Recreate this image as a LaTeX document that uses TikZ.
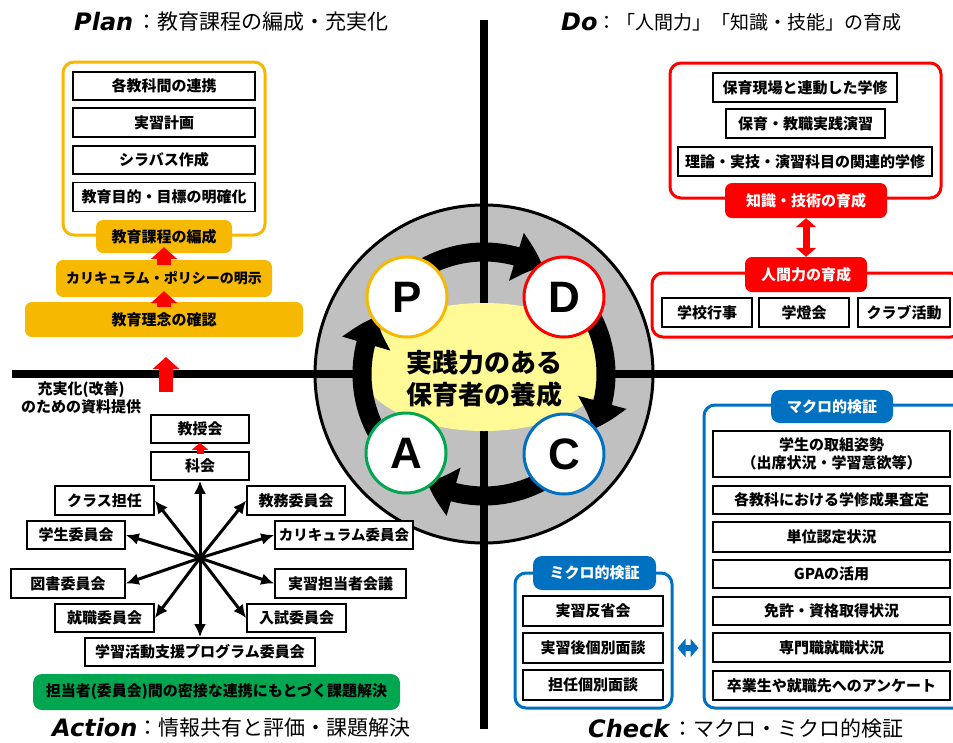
\documentclass[tikz,border=0pt]{standalone}
\usepackage{fontspec}
\setmainfont{Noto Sans CJK JP}
\newfontfamily\headfont{DejaVu Sans}
\newfontfamily\pdcafont{Liberation Sans}
\usetikzlibrary{arrows.meta,bending,positioning}

\definecolor{planC}{RGB}{246,184,0}
\definecolor{doC}{RGB}{255,0,0}
\definecolor{checkC}{RGB}{0,112,192}
\definecolor{actC}{RGB}{0,166,80}
\definecolor{ringG}{RGB}{192,192,192}
\definecolor{glowY}{RGB}{255,250,150}
\pgfdeclareradialshading{glowshade}{\pgfpoint{0bp}{0bp}}{color(0bp)=(glowY); color(40bp)=(glowY); color(50bp)=(ringG)}

\tikzset{
  box/.style={draw, line width=1.6pt, fill=white, inner sep=0pt, minimum height=28pt, font=\bfseries\fontsize{15}{18}\selectfont},
  tag/.style={rounded corners=7pt, inner sep=0pt, font=\bfseries\fontsize{15}{18}\selectfont},
  frame/.style={line width=3pt, rounded corners=11pt, inner sep=0pt},
  head/.style={inner sep=0pt, anchor=west, font=\headfont\bfseries\itshape\fontsize{24}{28}\selectfont},
  headtxt/.style={inner sep=0pt, anchor=west, font=\fontsize{21}{24}\selectfont},
  pdca/.style={circle, fill=white, line width=3pt, minimum size=80pt, inner sep=0pt, font=\pdcafont\bfseries\fontsize{44}{44}\selectfont},
  cyc/.style={line width=19pt, -{Triangle[length=29pt,width=48pt,bend]}},
  spoke/.style={line width=3pt, -{Latex[length=13pt,width=12pt]}},
  uparr/.style={doC, line width=14pt, -{Triangle[length=12pt,width=26pt]}},
  smallarr/.style={doC, line width=7pt, -{Triangle[length=7pt,width=16pt]}},
  dblred/.style={doC, line width=7pt, {Triangle[length=9pt,width=20pt]}-{Triangle[length=9pt,width=20pt]}},
  dblblue/.style={checkC, line width=6pt, {Triangle[length=8pt,width=18pt]}-{Triangle[length=8pt,width=18pt]}}
}

\begin{document}
\begin{tikzpicture}[x=1pt,y=-1pt]
\useasboundingbox (0,0) rectangle (953,742);
\clip (0,0) rectangle (953,742);

% wheel
\coordinate (cen) at (484,374);
\filldraw[fill=ringG, line width=3pt] (cen) circle[radius=169pt];
\coordinate (vtop) at (484,20);
\coordinate (vbot) at (484,729);
\coordinate (hleft) at (12,374);
\coordinate (hright) at (960,374);
\draw[line width=8pt] (vtop) -- (vbot);
\draw[line width=8pt] (hleft) -- (hright);
\shade[shading=glowshade] (484,367) ellipse[x radius=124pt, y radius=64pt];

\draw[cyc] (cen) ++(125:122pt) arc[start angle=125, end angle=61, radius=122pt];
\draw[cyc] (cen) ++(35:122pt) arc[start angle=35, end angle=-27, radius=122pt];
\draw[cyc] (cen) ++(-55:122pt) arc[start angle=-55, end angle=-118, radius=122pt];
\draw[cyc] (cen) ++(215:122pt) arc[start angle=215, end angle=152, radius=122pt];

\node[pdca, draw=planC] (pn) at (407,297) {P};
\node[pdca, draw=doC] (dn) at (564,297) {D};
\node[pdca, draw=actC] (an) at (406,453) {A};
\node[pdca, draw=checkC] (cn) at (564,454) {C};
\node[align=center, inner sep=0pt, font=\bfseries\fontsize{26}{32}\selectfont] (goal) at (484,379) {実践力のある\\保育者の養成};

% Plan
\node[head] (planh) at (74,22) {Plan};
\node[headtxt] (plant) at (136,22) {：教育課程の編成・充実化};
\node[frame, draw=planC, minimum width=202pt, minimum height=173pt] (planfr) at (164,148.5) {};
\node[box, minimum width=182pt] (p1) at (164,86) {各教科間の連携};
\node[box, minimum width=182pt, minimum height=29pt] (p2) at (164,122.5) {実習計画};
\node[box, minimum width=182pt] (p3) at (164,160) {シラバス作成};
\node[box, minimum width=182pt, minimum height=29pt] (p4) at (164,197) {教育目的・目標の明確化};
\node[tag, fill=planC, minimum width=136pt, minimum height=33pt] (pk) at (164,236.5) {教育課程の編成};
\node[tag, fill=planC, minimum width=216pt, minimum height=37pt, font=\bfseries\fontsize{14}{17}\selectfont] (pc) at (164,278.5) {カリキュラム・ポリシーの明示};
\node[tag, fill=planC, minimum width=278pt, minimum height=35pt] (pr) at (164,319.5) {教育理念の確認};
\draw[uparr] ([yshift=-5pt]pc.north) -- ([yshift=6pt]pk.south);
\draw[uparr] ([yshift=-5pt]pr.north) -- ([yshift=6pt]pc.south);
\coordinate (fbase) at (166,392);
\coordinate (ftip) at (166,357);
\draw[uparr] (fbase) -- (ftip);
\node[align=center, inner sep=0pt, font=\bfseries\fontsize{15}{18}\selectfont] (feed) at (81,398) {充実化(改善)\\のための資料提供};

% Do
\node[head] (doh) at (561,22) {Do};
\node[headtxt, font=\fontsize{19}{24}\selectfont] (dot) at (597,22) {：「人間力」「知識・技能」の育成};
\node[frame, draw=doC, minimum width=271pt, minimum height=135pt] (dofr) at (805.5,130.5) {};
\node[box, minimum width=184pt, minimum height=29pt] (d1) at (805,87.5) {保育現場と連動した学修};
\node[box, minimum width=159pt, minimum height=29pt] (d2) at (805.5,123.5) {保育・教職実践演習};
\node[box, minimum width=254pt, minimum height=29pt] (d3) at (805,161.5) {理論・実技・演習科目の関連的学修};
\node[frame, draw=doC, minimum width=310pt, minimum height=64pt] (ningenfr) at (807,305) {};
\node[tag, fill=doC, text=white, minimum width=162pt, minimum height=35pt] (chishiki) at (806,200.5) {知識・技術の育成};
\node[tag, fill=doC, text=white, minimum width=122pt, minimum height=35pt] (ningen) at (806,274.5) {人間力の育成};
\draw[dblred] (chishiki.south) -- (ningen.north);
\node[box, minimum width=90pt, minimum height=29pt] (gyouji) at (707,312.5) {学校行事};
\node[box, minimum width=90pt, minimum height=29pt] (gakutou) at (804,312.5) {学燈会};
\node[box, minimum width=92pt, minimum height=29pt] (club) at (904,312.5) {クラブ活動};

% Action
\node[head] (acth) at (52,728) {Action};
\node[headtxt] (actt) at (137,728) {：情報共有と評価・課題解決};
\node[box, minimum width=98pt] (kyoju) at (200,429) {教授会};
\node[box, minimum width=98pt] (kakai) at (200,466) {科会};
\draw[smallarr] ([yshift=-3pt]kakai.north) -- ([yshift=1pt]kyoju.south);
\node[box, minimum width=99pt, minimum height=29pt] (kurasu) at (104.5,500.5) {クラス担任};
\node[box, minimum width=98pt] (gakusei) at (76,535) {学生委員会};
\node[box, minimum width=114pt, minimum height=29pt] (tosho) at (68,583.5) {図書委員会};
\node[box, minimum width=99pt] (shushoku) at (104.5,618) {就職委員会};
\node[box, minimum width=230pt] (gakushu) at (200,652) {学習活動支援プログラム委員会};
\node[box, minimum width=98pt, minimum height=29pt] (kyomu) at (296,500.5) {教務委員会};
\node[box, minimum width=138pt, font=\bfseries\fontsize{14.5}{18}\selectfont] (curri) at (344,535) {カリキュラム委員会};
\node[box, minimum width=131pt, minimum height=29pt] (jisshu) at (340.5,583.5) {実習担当者会議};
\node[box, minimum width=99pt] (nyushi) at (296.5,618) {入試委員会};
\coordinate (hub) at (200,558);
\foreach \t/\a in {kakai/south, gakushu/north, kurasu/east, gakusei/east, tosho/east, shushoku/east, kyomu/west, curri/west, jisshu/west, nyushi/west}
  \draw[spoke] (hub) -- (\t.\a);
\node[tag, fill=actC, rounded corners=9pt, minimum width=367pt, minimum height=36pt] (renkei) at (216.5,692) {担当者(委員会)間の密接な連携にもとづく課題解決};

% Check
\node[head] (chkh) at (588,729) {Check};
\node[headtxt] (chkt) at (672,729) {：マクロ・ミクロ的検証};
\node[frame, draw=checkC, minimum width=261pt, minimum height=303pt] (macrofr) at (834.5,556.5) {};
\node[frame, draw=checkC, minimum width=157pt, minimum height=135pt] (microfr) at (593.5,640.5) {};
\node[tag, fill=checkC, text=white, rounded corners=9pt, minimum width=122pt, minimum height=33pt] (macro) at (832,406.5) {マクロ的検証};
\node[tag, fill=checkC, text=white, rounded corners=9pt, minimum width=123pt, minimum height=34pt] (micro) at (594.5,573) {ミクロ的検証};
\node[box, minimum width=237pt, minimum height=46pt, align=center] (m1) at (831.5,454) {学生の取組姿勢\\（出席状況・学習意欲等）};
\node[box, minimum width=237pt] (m2) at (831.5,500) {各教科における学修成果査定};
\node[box, minimum width=237pt, minimum height=30pt] (m3) at (831.5,537) {単位認定状況};
\node[box, minimum width=237pt] (m4) at (831.5,574) {GPAの活用};
\node[box, minimum width=237pt] (m5) at (831.5,611) {免許・資格取得状況};
\node[box, minimum width=237pt, minimum height=29pt] (m6) at (831.5,647.5) {専門職就職状況};
\node[box, minimum width=237pt, minimum height=29pt] (m7) at (831.5,685.5) {卒業生や就職先へのアンケート};
\node[box, minimum width=140pt, minimum height=30pt] (c1) at (593,611) {実習反省会};
\node[box, minimum width=140pt, minimum height=30pt] (c2) at (593,648) {実習後個別面談};
\node[box, minimum width=140pt, minimum height=30pt] (c3) at (593,685) {担任個別面談};
\draw[dblblue, shorten <=4pt, shorten >=4pt] (microfr.east |- c2) -- (macrofr.west |- c2);
\end{tikzpicture}
\end{document}
